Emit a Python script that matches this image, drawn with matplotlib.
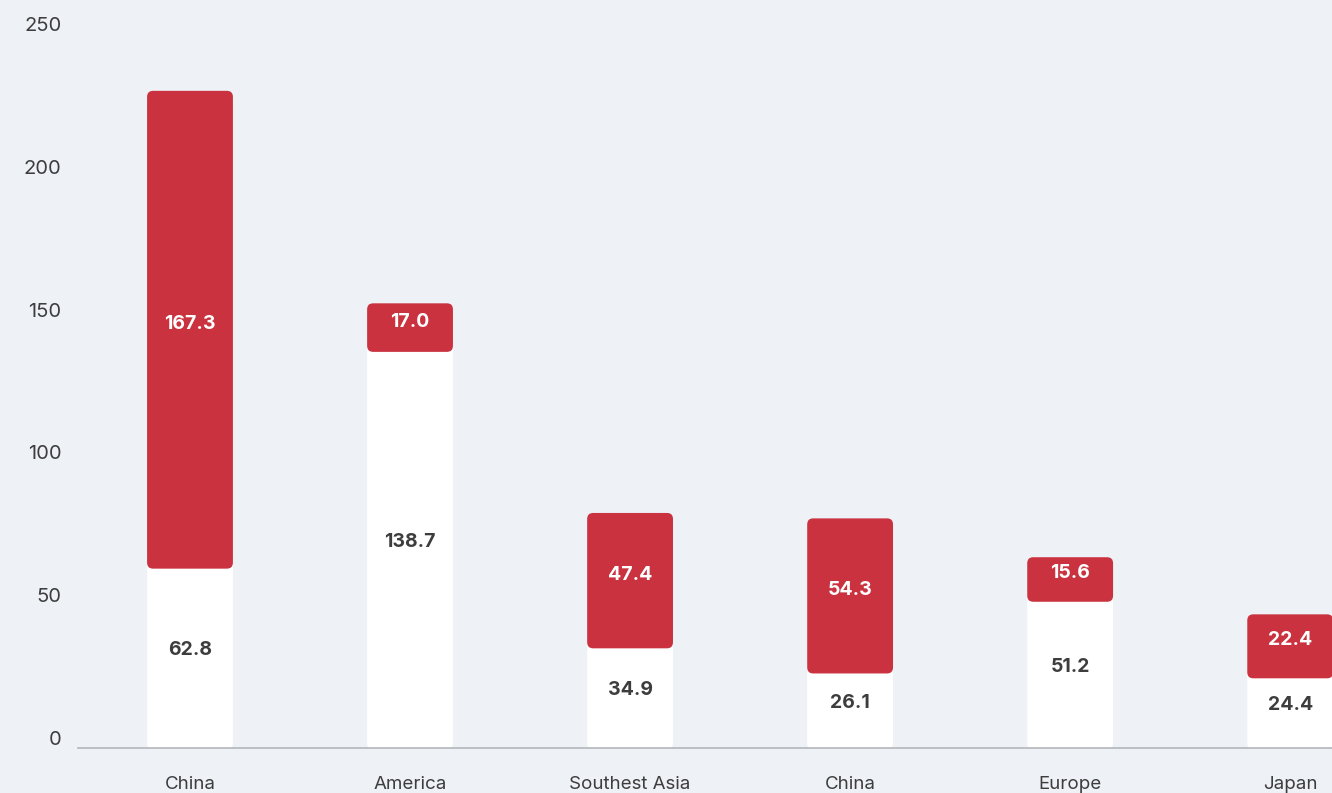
import matplotlib
matplotlib.use("Agg")
import matplotlib.pyplot as plt
import matplotlib.transforms as mtransforms
from matplotlib.patches import FancyBboxPatch

# Data
regions = ["China", "America", "Southest Asia", "China", "Europe", "Japan"]
base_values = [62.8, 138.7, 34.9, 26.1, 51.2, 24.4]
top_values = [167.3, 17.0, 47.4, 54.3, 15.6, 22.4]
y_ticks = [0, 50, 100, 150, 200, 250]

RED = "#c9323e"
BG = "#eef1f6"
TEXT = "#3d3d3d"

plt.rcParams["font.family"] = ["Inter", "DejaVu Sans"]

W, H = 1332, 793
fig = plt.figure(figsize=(W / 100, H / 100), dpi=100, facecolor=BG)
ax = fig.add_axes([78 / W, 45 / H, (W - 78) / W, 714 / H])
ax.set_facecolor(BG)

ax.set_xlim(-0.509, 5.19)
ax.set_ylim(0, 250)

# pixels per data unit, used to keep rounded corners circular
px_x = (W - 78) / (5.19 + 0.509)
px_y = 714 / 250
aspect = px_x / px_y

bar_w = 0.39
radius = 6 / px_x

for i, (b, t) in enumerate(zip(base_values, top_values)):
    x0 = i - bar_w / 2
    # white segment, running a bit up under the red one so its top corners hide
    ax.add_patch(FancyBboxPatch((x0, 0), bar_w, b + 12 / px_y,
                                boxstyle=f"round,pad=0,rounding_size={radius * 0.7}",
                                mutation_aspect=aspect, fc="white", ec="none", zorder=2))
    # red segment on top
    ax.add_patch(FancyBboxPatch((x0, b), bar_w, t,
                                boxstyle=f"round,pad=0,rounding_size={radius}",
                                mutation_aspect=aspect, fc=RED, ec="none", zorder=3))

    ax.text(i, b / 2 + 8 / px_y, f"{b:.1f}", ha="center", va="center",
            fontsize=14, fontweight="bold", color=TEXT, zorder=4)
    ax.text(i, b + t / 2 + 6 / px_y, f"{t:.1f}", ha="center", va="center",
            fontsize=14, fontweight="bold", color="white", zorder=4)

ax.set_xticks(range(len(regions)))
ax.set_xticklabels(regions, fontsize=13.5, color=TEXT)
ax.set_yticks(y_ticks)
ax.set_yticklabels([str(v) for v in y_ticks], fontsize=14.5, color=TEXT)
ax.tick_params(axis="x", length=0, pad=20)
ax.tick_params(axis="y", length=0, pad=12)

# y labels sit a little above their tick positions
offset = mtransforms.ScaledTranslation(0, 10 / 100, fig.dpi_scale_trans)
for lab in ax.get_yticklabels():
    lab.set_transform(lab.get_transform() + offset)

for side in ["top", "right", "left"]:
    ax.spines[side].set_visible(False)
ax.spines["bottom"].set_color("#b3b6bb")
ax.spines["bottom"].set_linewidth(1.2)
ax.spines["bottom"].set_zorder(5)

fig.savefig("out.png", dpi=100, facecolor=BG)
